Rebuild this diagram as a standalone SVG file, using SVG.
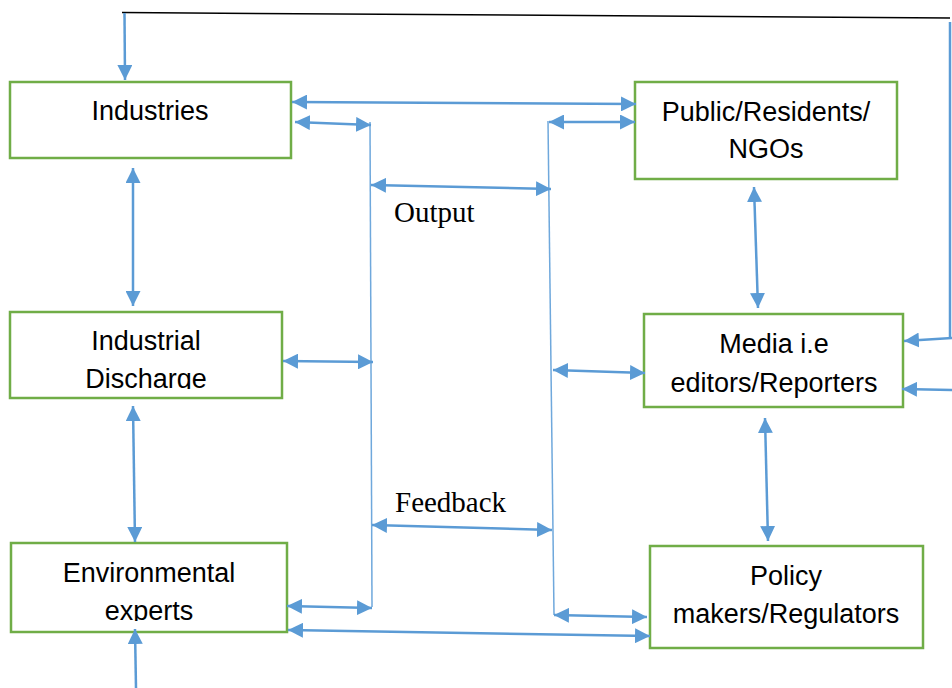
<svg xmlns="http://www.w3.org/2000/svg" width="952" height="688" viewBox="0 0 952 688">
  <style>
    .box { fill: #fff; stroke: #70AD47; stroke-width: 2.5; }
    .lbl { font-family: "Liberation Sans", Arial, sans-serif; font-size: 27px; fill: #000; text-anchor: middle; }
    .note { font-family: "Liberation Serif", "Times New Roman", serif; font-size: 29px; fill: #000; }
    .arr { stroke: #5B9BD5; stroke-width: 2.5; fill: none; }
    .both { marker-start: url(#head); marker-end: url(#head); }
    .one { marker-end: url(#head); }
    .bus { stroke: #6FA8DC; stroke-width: 1.5; fill: none; }
  </style>
  <defs>
    <marker id="head" markerUnits="userSpaceOnUse" markerWidth="15" markerHeight="15" refX="15" refY="7.5" orient="auto-start-reverse">
      <path d="M0,0 L15,7.5 L0,15 z" fill="#5B9BD5"/>
    </marker>
    <clipPath id="clipDischarge"><rect x="10" y="312" width="272" height="77"/></clipPath>
    <clipPath id="clipExperts"><rect x="11" y="543" width="276" height="78"/></clipPath>
  </defs>

  <rect width="952" height="688" fill="#fff"/>

  <!-- nodes -->
  <g id="industries">
    <rect class="box" x="10" y="82" width="281" height="76"/>
    <text class="lbl" x="150" y="120">Industries</text>
  </g>
  <g id="discharge">
    <rect class="box" x="10" y="312" width="272" height="86"/>
    <g clip-path="url(#clipDischarge)">
      <text class="lbl" x="146" y="350">Industrial</text>
      <text class="lbl" x="146" y="388">Discharge</text>
    </g>
  </g>
  <g id="experts">
    <rect class="box" x="11" y="543" width="276" height="89"/>
    <g clip-path="url(#clipExperts)">
      <text class="lbl" x="149" y="582">Environmental</text>
      <text class="lbl" x="149" y="620">experts</text>
    </g>
  </g>
  <g id="public">
    <rect class="box" x="635" y="82" width="262" height="97"/>
    <text class="lbl" x="766" y="121">Public/Residents/</text>
    <text class="lbl" x="766" y="158">NGOs</text>
  </g>
  <g id="media">
    <rect class="box" x="644" y="314" width="259" height="93"/>
    <text class="lbl" x="774" y="353">Media i.e</text>
    <text class="lbl" x="774" y="392">editors/Reporters</text>
  </g>
  <g id="policy">
    <rect class="box" x="650" y="546" width="273" height="102"/>
    <text class="lbl" x="786" y="585">Policy</text>
    <text class="lbl" x="786" y="623">makers/Regulators</text>
  </g>

  <!-- connectors -->
  <g id="connectors">
    <!-- return loop along the top and right edge -->
    <line x1="122" y1="12.5" x2="950" y2="18" stroke="#000" stroke-width="1.5"/>
    <line class="arr one" x1="124.5" y1="13" x2="125" y2="80"/>
    <line class="arr" x1="950" y1="22" x2="950" y2="338"/>
    <line class="arr one" x1="952" y1="338" x2="904" y2="341"/>
    <line class="arr one" x1="952" y1="390" x2="902" y2="389"/>

    <!-- vertical buses -->
    <line class="bus" x1="370" y1="122" x2="372" y2="607"/>
    <line class="bus" x1="548" y1="121" x2="554" y2="615"/>

    <!-- top row -->
    <line class="arr both" x1="292" y1="102" x2="636" y2="104"/>
    <line class="arr both" x1="295" y1="122" x2="371" y2="125"/>
    <line class="arr both" x1="549" y1="122" x2="635" y2="122"/>

    <!-- between buses -->
    <line class="arr both" x1="371" y1="185" x2="551" y2="189"/>
    <line class="arr both" x1="372" y1="525" x2="552" y2="530"/>

    <!-- middle row -->
    <line class="arr both" x1="283" y1="361" x2="373" y2="362"/>
    <line class="arr both" x1="553" y1="370" x2="645" y2="373"/>

    <!-- bottom row -->
    <line class="arr both" x1="287" y1="606" x2="372" y2="608"/>
    <line class="arr both" x1="288" y1="630" x2="650" y2="636"/>
    <line class="arr both" x1="554" y1="615" x2="647" y2="617"/>

    <!-- left column -->
    <line class="arr both" x1="133" y1="168" x2="133" y2="306"/>
    <line class="arr both" x1="133" y1="406" x2="135" y2="542"/>
    <line class="arr one" x1="136" y1="688" x2="135" y2="629"/>

    <!-- right column -->
    <line class="arr both" x1="754" y1="187" x2="758" y2="308"/>
    <line class="arr both" x1="765" y1="418" x2="768" y2="541"/>
  </g>

  <!-- flow labels -->
  <text class="note" x="394" y="222">Output</text>
  <text class="note" x="395" y="512">Feedback</text>
</svg>
